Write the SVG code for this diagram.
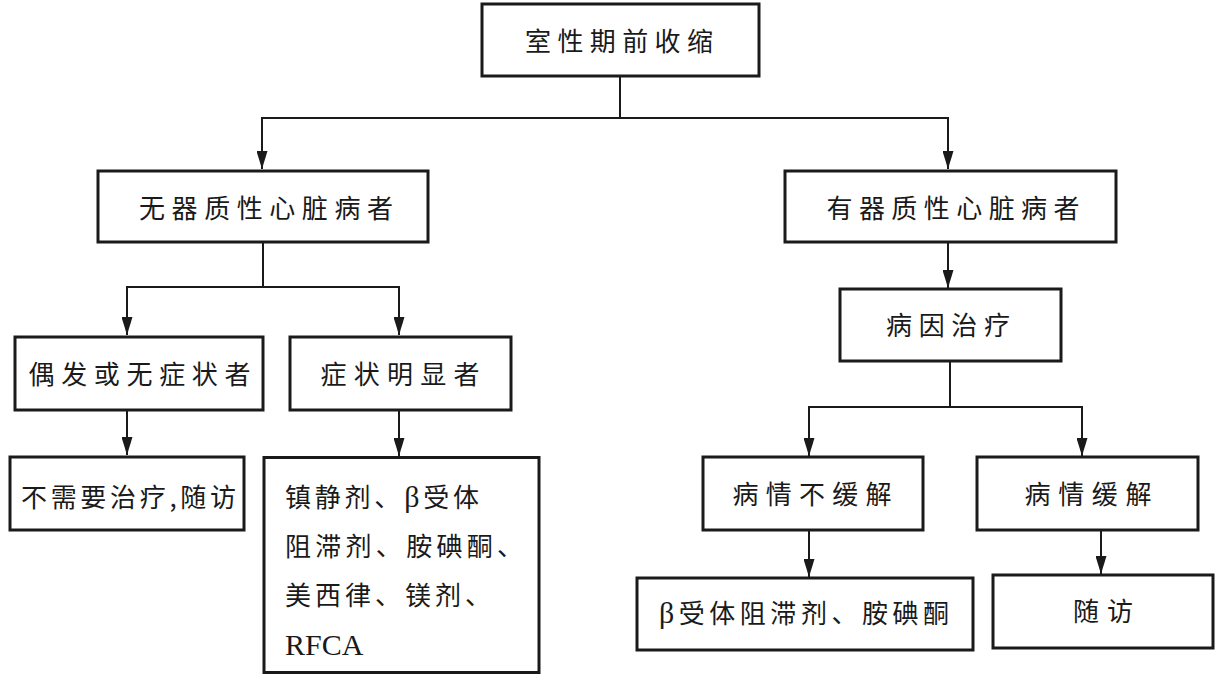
<svg xmlns="http://www.w3.org/2000/svg" width="1222" height="674" viewBox="0 0 1222 674">
<defs>
<style>
.box{fill:#fff;stroke:#1a1a1a;stroke-width:3}
.t{font-family:"Noto Sans CJK SC","Noto Sans CJK TC",sans-serif;font-size:26px;fill:#1a1a1a;text-anchor:middle}
.tl{font-family:"Noto Sans CJK SC","Noto Sans CJK TC",sans-serif;font-size:26px;fill:#1a1a1a}
.lat{font-family:"Liberation Serif",serif;font-size:30px}
.c{fill:none;stroke:#1a1a1a;stroke-width:2}
</style>
<marker id="ah" markerUnits="userSpaceOnUse" markerWidth="18" markerHeight="11" refX="18" refY="5.5" orient="auto" viewBox="0 0 18 11">
<path d="M0,0 L18,5.5 L0,11 Z" fill="#1a1a1a"/>
</marker>
</defs>
<rect width="1222" height="674" fill="#fff"/>
<g id="connectors">
<path class="c" d="M620,76 V118 H262 V169" marker-end="url(#ah)"/>
<path class="c" d="M620,118 H948 V169" marker-end="url(#ah)"/>
<path class="c" d="M263,242 V287 H127 V335" marker-end="url(#ah)"/>
<path class="c" d="M263,287 H399 V335" marker-end="url(#ah)"/>
<path class="c" d="M127,410 V455" marker-end="url(#ah)"/>
<path class="c" d="M399,410 V456" marker-end="url(#ah)"/>
<path class="c" d="M948,242 V288" marker-end="url(#ah)"/>
<path class="c" d="M950,361 V407 H809 V456" marker-end="url(#ah)"/>
<path class="c" d="M950,407 H1082 V456" marker-end="url(#ah)"/>
<path class="c" d="M809,530 V577" marker-end="url(#ah)"/>
<path class="c" d="M1101,530 V574" marker-end="url(#ah)"/>
</g>
<g id="n_root">
<rect class="box" x="482" y="4" width="277" height="72"/>
<text class="t" x="619" y="51" textLength="188" lengthAdjust="spacing">室性期前收缩</text>
</g>
<g id="n_no_organic">
<rect class="box" x="98" y="171" width="330" height="71"/>
<text class="t" x="266" y="218" textLength="254" lengthAdjust="spacing">无器质性心脏病者</text>
</g>
<g id="n_organic">
<rect class="box" x="785" y="171" width="331" height="71"/>
<text class="t" x="953" y="218" textLength="253" lengthAdjust="spacing">有器质性心脏病者</text>
</g>
<g id="n_occasional">
<rect class="box" x="15" y="337" width="248" height="73"/>
<text class="t" x="139.5" y="384" textLength="222" lengthAdjust="spacing">偶发或无症状者</text>
</g>
<g id="n_symptomatic">
<rect class="box" x="290" y="337" width="221" height="73"/>
<text class="t" x="400" y="384" textLength="159" lengthAdjust="spacing">症状明显者</text>
</g>
<g id="n_no_treatment">
<rect class="box" x="10" y="457" width="234" height="73"/>
<text class="t" x="128.5" y="507" textLength="215" lengthAdjust="spacing">不需要治疗,随访</text>
</g>
<g id="n_drugs">
<rect class="box" x="264" y="457.5" width="275" height="215"/>
<text class="tl" x="285" y="507" textLength="194" lengthAdjust="spacing">镇静剂、<tspan class="lat">β</tspan>受体</text>
<text class="tl" x="285" y="556" textLength="238" lengthAdjust="spacing">阻滞剂、胺碘酮、</text>
<text class="tl" x="285" y="605" textLength="206" lengthAdjust="spacing">美西律、镁剂、</text>
<text class="tl lat" x="285" y="655">RFCA</text>
</g>
<g id="n_etiology">
<rect class="box" x="840" y="289" width="221" height="72"/>
<text class="t" x="948" y="335" textLength="124" lengthAdjust="spacing">病因治疗</text>
</g>
<g id="n_not_relieved">
<rect class="box" x="703" y="457" width="220" height="73"/>
<text class="t" x="812" y="504" textLength="159" lengthAdjust="spacing">病情不缓解</text>
</g>
<g id="n_relieved">
<rect class="box" x="977" y="457" width="221" height="73"/>
<text class="t" x="1088" y="504" textLength="127" lengthAdjust="spacing">病情缓解</text>
</g>
<g id="n_beta">
<rect class="box" x="637" y="578" width="336" height="72"/>
<text class="t" x="804" y="623" textLength="290" lengthAdjust="spacing"><tspan class="lat">β</tspan>受体阻滞剂、胺碘酮</text>
</g>
<g id="n_followup">
<rect class="box" x="993" y="575" width="220" height="73"/>
<text class="t" x="1103" y="621" textLength="60" lengthAdjust="spacing">随访</text>
</g>
</svg>
